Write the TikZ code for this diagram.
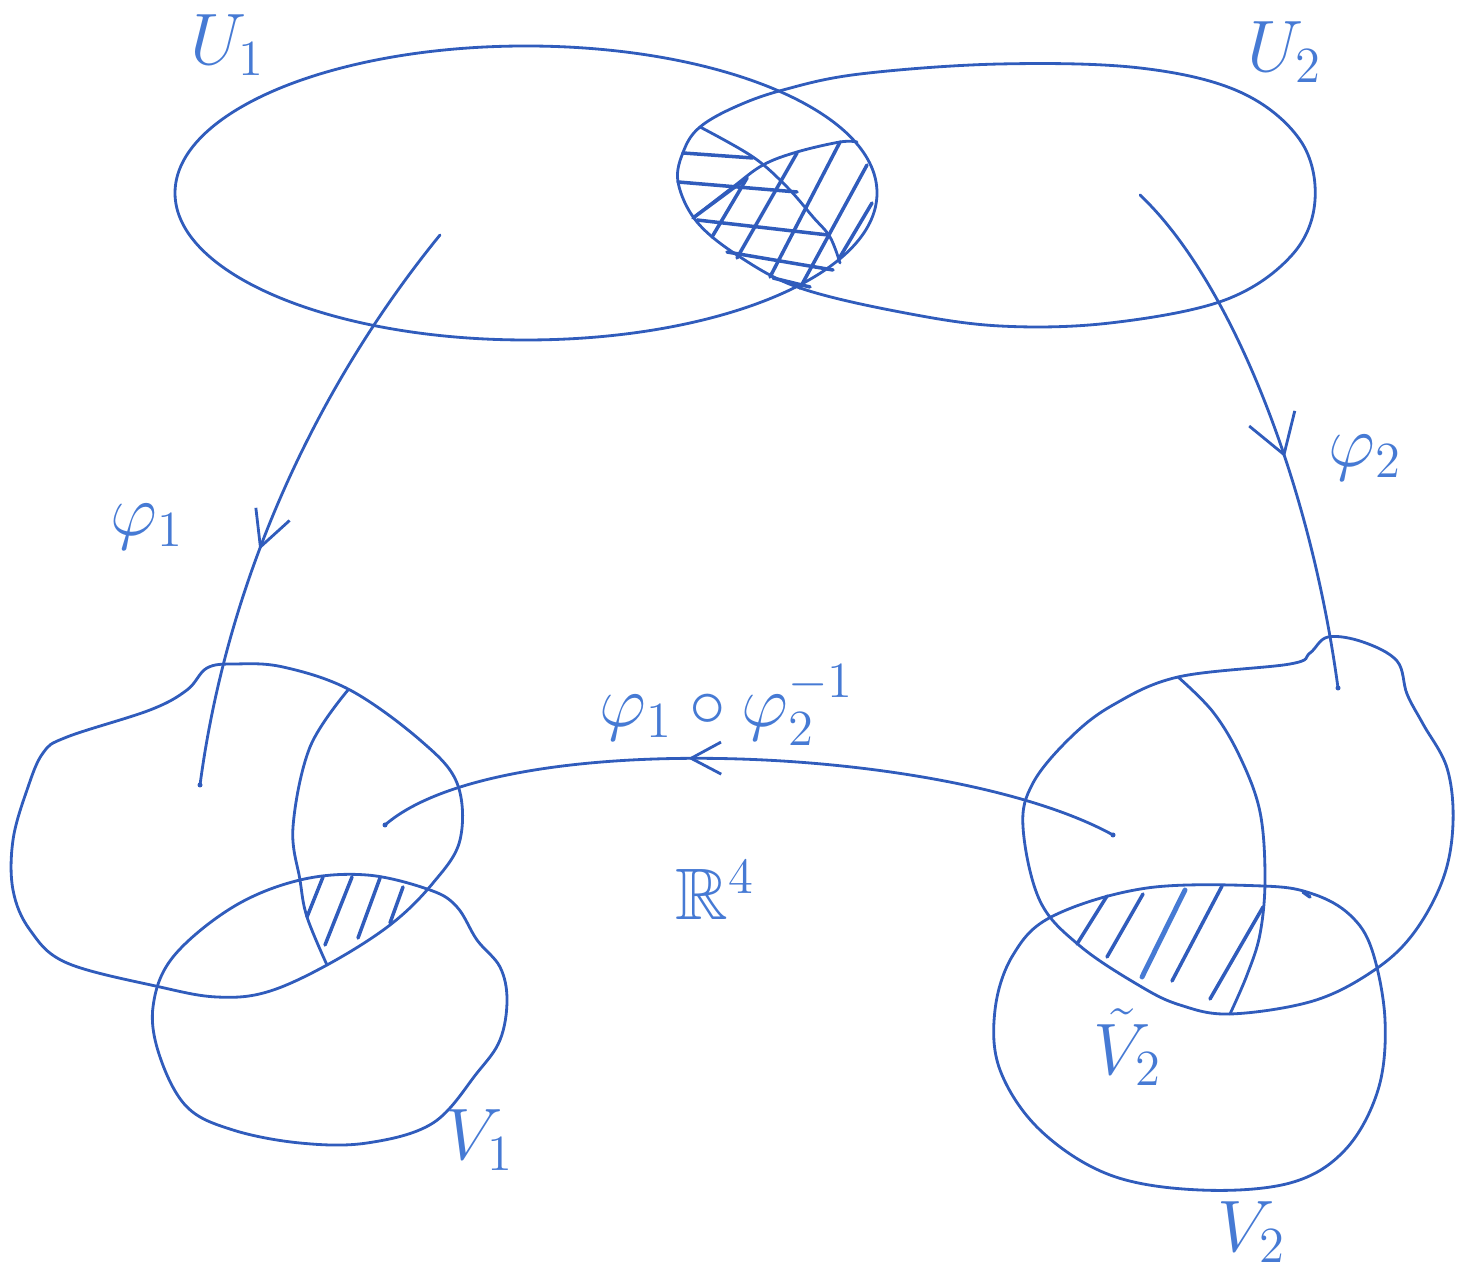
\documentclass[tikz,border=0pt]{standalone}
\usepackage{amssymb}
\usetikzlibrary{arrows.meta,decorations.markings}
\definecolor{ink}{RGB}{48,92,188}
\definecolor{labelink}{RGB}{70,122,212}
\tikzset{
  pen/.style={color=ink, line width=0.8pt, line cap=round, line join=round},
  hatch/.style={color=ink, line width=1pt, line cap=round},
  lbl/.style={text=labelink, font=\huge, inner sep=0pt},
  midarrow/.style 2 args={postaction={decorate},
     decoration={markings, mark=at position #1 with {\arrow{#2}}}},
  penend/.style={fill=ink, draw=none},
}
\begin{document}
\begin{tikzpicture}[x=0.01cm, y=-0.01cm]
\useasboundingbox (0,0) rectangle (1467,1268);

% ---------- top: U1 and U2 ----------
\draw[pen] (526,193) ellipse [x radius=351, y radius=147];
\draw[pen] plot[smooth cycle, tension=0.6] coordinates {
  (678,182) (684,150) (700,127) (735,107) (783,90) (860,74) (1000,64)
  (1140,68) (1240,92) (1300,140) (1315,200) (1292,255) (1225,300)
  (1110,323) (1000,326) (900,312) (800,288) (740,257) (697,222)};
% inner curves of the overlap
\draw[pen] plot[smooth, tension=0.6] coordinates {
  (700,127) (753,157) (787,187) (813,217) (830,237) (840,263)};
\draw[pen] plot[smooth, tension=0.6] coordinates {
  (693,218) (733,187) (763,165) (797,152) (840,142) (857,142)};
% hatching of the overlap
\draw[hatch] (683,153) -- (753,158);
\draw[hatch] (678,182) -- (797,192);
\draw[hatch] (697,220) -- (828,235);
\draw[hatch] (727,252) -- (833,270);
\draw[hatch] (773,278) -- (810,287);
\draw[hatch] (693,218) -- (747,178);
\draw[hatch] (712,237) -- (747,178);
\draw[hatch] (737,258) -- (797,153);
\draw[hatch] (770,277) -- (840,142);
\draw[hatch] (800,288) -- (867,165);
\draw[hatch] (840,257) -- (872,203);

% ---------- bottom left ----------
\draw[pen] plot[smooth cycle, tension=0.6] coordinates {
  (207,668) (235,664) (283,667) (350,690) (420,740) (457,783) (460,840)
  (433,883) (390,925) (327,965) (267,992) (217,997) (160,987) (67,963)
  (30,930) (13,890) (13,840) (27,790) (43,753) (67,737) (150,710) (187,690)};
\draw[pen] plot[smooth, tension=0.6] coordinates {
  (348,690) (310,747) (293,827) (300,880) (307,917) (327,965)};
\draw[pen] plot[smooth cycle, tension=0.6] coordinates {
  (173,957) (233,907) (300,880) (367,875) (430,890) (457,907) (477,940)
  (500,967) (507,1000) (500,1040) (477,1073) (433,1123) (367,1143)
  (300,1143) (233,1130) (187,1107) (160,1057) (153,1007)};
\draw[hatch] (323,877) -- (307,917);
\draw[hatch] (352,877) -- (325,945);
\draw[hatch] (380,878) -- (358,938);
\draw[hatch] (403,887) -- (390,923);

% ---------- bottom right ----------
\draw[pen] plot[smooth cycle, tension=0.6] coordinates {
  (1178,677) (1290,664) (1310,653) (1328,637) (1363,642) (1397,661)
  (1407,694) (1423,724) (1447,768) (1453,823) (1443,879) (1413,934)
  (1373,971) (1313,1001) (1230,1014) (1180,1005) (1140,986) (1080,946)
  (1040,901) (1023,827) (1033,783) (1070,738) (1113,705)};
\draw[pen] plot[smooth, tension=0.6] coordinates {
  (1178,677) (1213,712) (1240,757) (1260,812) (1265,879) (1260,934)
  (1247,975) (1230,1014)};
\draw[pen] plot[smooth cycle, tension=0.6] coordinates {
  (1053,916) (1147,888) (1263,886) (1313,894) (1350,915) (1372,950)
  (1385,1020) (1378,1090) (1345,1150) (1290,1183) (1200,1190)
  (1110,1175) (1040,1130) (1000,1070) (995,1010) (1013,955)};
\draw[hatch] (1107,896) -- (1077,944);
\draw[hatch] (1143,894) -- (1107,957);
\draw[hatch, color=labelink, line width=1.4pt] (1185,890) -- (1142,977);
\draw[hatch] (1222,886) -- (1172,981);
\draw[hatch] (1263,907) -- (1210,999);
\draw[hatch] (1303,892) -- (1310,897);

% ---------- maps ----------
\coordinate (a1s) at (440,235);
\coordinate (a1e) at (200,785);
\coordinate (a2s) at (1140,195);
\coordinate (a2e) at (1338,688);
\coordinate (a3s) at (1113,835);
\coordinate (a3e) at (385,825);
\draw[pen, midarrow={0.6}{Straight Barb[length=3.5mm,width=3.6mm]}]
  (a1s) .. controls (330,370) and (230,560) .. (a1e);
\draw[pen, midarrow={0.56}{Straight Barb[length=3.8mm,width=4.8mm]}]
  (a2s) .. controls (1230,280) and (1310,480) .. (a2e);
\draw[pen, midarrow={0.58}{Straight Barb[length=3mm,width=3.2mm]}]
  (a3s) .. controls (950,745) and (500,725) .. (a3e);
\fill[penend] (a1e) circle (2.5);
\fill[penend] (a2e) circle (2.5);
\fill[penend] (a3s) circle (2.5);
\fill[penend] (a3e) circle (2.5);

% ---------- labels ----------
\node[lbl] (u1) at (228,45) {$U_1$};
\node[lbl] (u2) at (1285,52) {$U_2$};
\node[lbl] (f1) at (147,527) {$\varphi_1$};
\node[lbl] (f2) at (1365,458) {$\varphi_2$};
\node[lbl] (f12) at (727,705) {$\varphi_1\circ\varphi_2^{-1}$};
\node[lbl] (rn) at (715,890) {$\mathbb{R}^4$};
\node[lbl] (vt) at (1128,1047) {$\tilde{V}_2$};
\node[lbl] (v1) at (480,1140) {$V_1$};
\node[lbl] (v2) at (1252,1232) {$V_2$};
\end{tikzpicture}
\end{document}
